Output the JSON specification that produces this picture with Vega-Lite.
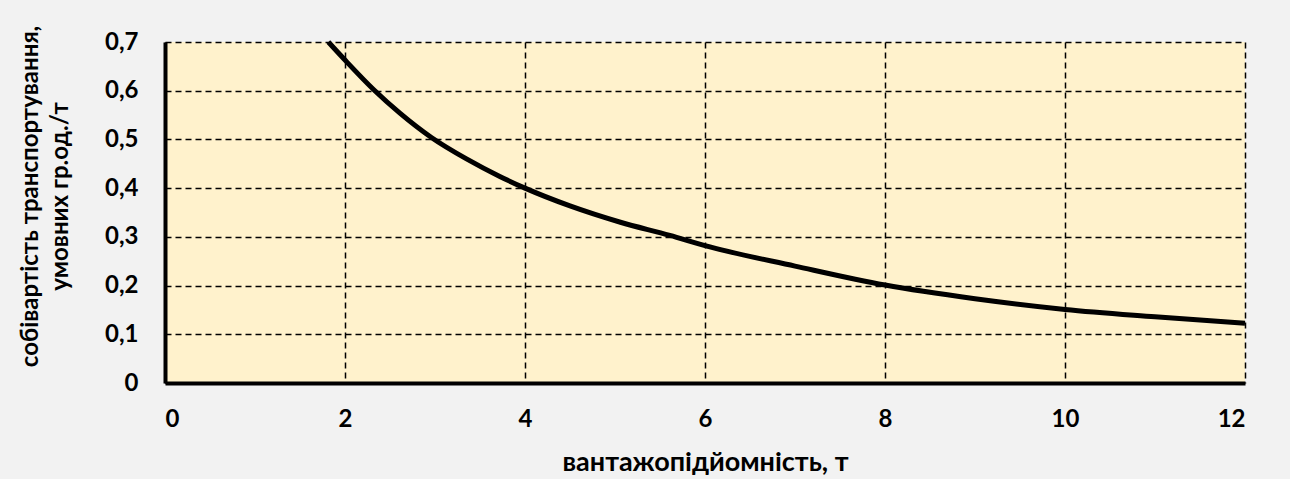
{
  "$schema": "https://vega.github.io/schema/vega-lite/v6.json",
  "width": 1080,
  "height": 341,
  "autosize": {"type": "none"},
  "padding": {"left": 165, "top": 42, "right": 45, "bottom": 96},
  "background": "#F2F2F2",
  "config": {
    "font": "Lato",
    "view": {"fill": "#FFF2CC", "stroke": null}
  },
  "data": {
    "values": [
      {"capacity": 1.815, "cost": 0.70},
      {"capacity": 2.0, "cost": 0.663},
      {"capacity": 2.32, "cost": 0.602},
      {"capacity": 2.61, "cost": 0.554},
      {"capacity": 2.96, "cost": 0.504},
      {"capacity": 3.35, "cost": 0.46},
      {"capacity": 3.72, "cost": 0.424},
      {"capacity": 4.0, "cost": 0.40},
      {"capacity": 4.5, "cost": 0.3635},
      {"capacity": 5.06, "cost": 0.33},
      {"capacity": 5.61, "cost": 0.303},
      {"capacity": 6.0, "cost": 0.282},
      {"capacity": 7.0, "cost": 0.24},
      {"capacity": 8.0, "cost": 0.201},
      {"capacity": 9.0, "cost": 0.173},
      {"capacity": 10.0, "cost": 0.151},
      {"capacity": 11.0, "cost": 0.136},
      {"capacity": 12.0, "cost": 0.1226}
    ]
  },
  "mark": {"type": "line", "color": "#000000", "strokeWidth": 5, "interpolate": "monotone"},
  "encoding": {
    "x": {
      "field": "capacity",
      "type": "quantitative",
      "scale": {"domain": [0, 12], "nice": false, "zero": false},
      "axis": {
        "values": [0, 2, 4, 6, 8, 10, 12],
        "title": "вантажопідйомність, т",
        "titleFont": "Lato",
        "titleFontSize": 27,
        "titleFontWeight": "bold",
        "titleColor": "#000000",
        "titlePadding": 18,
        "labelFont": "Lato",
        "labelFontSize": 24,
        "labelFontWeight": "bold",
        "labelColor": "#000000",
        "labelPadding": 24,
        "ticks": false,
        "domainColor": "#000000",
        "domainWidth": 4,
        "grid": true,
        "gridColor": "#000000",
        "gridWidth": 1.5,
        "gridDash": [6, 4],
        "gridOpacity": 1
      }
    },
    "y": {
      "field": "cost",
      "type": "quantitative",
      "scale": {"domain": [0, 0.7], "nice": false},
      "axis": {
        "values": [0, 0.1, 0.2, 0.3, 0.4, 0.5, 0.6, 0.7],
        "labelExpr": "datum.value == 0 ? '0' : replace(format(datum.value, '.1f'), '.', ',')",
        "title": ["собівартість транспортування,", "умовних гр.од./т"],
        "titleFont": "Lato",
        "titleFontSize": 24,
        "titleFontWeight": "bold",
        "titleColor": "#000000",
        "titlePadding": 32,
        "titleLineHeight": 30,
        "titleY": 154,
        "labelFont": "Lato",
        "labelFontSize": 24,
        "labelFontWeight": "bold",
        "labelColor": "#000000",
        "labelPadding": 27,
        "ticks": false,
        "domainColor": "#000000",
        "domainWidth": 4,
        "grid": true,
        "gridColor": "#000000",
        "gridWidth": 1.5,
        "gridDash": [6, 4],
        "gridOpacity": 1
      }
    }
  }
}
